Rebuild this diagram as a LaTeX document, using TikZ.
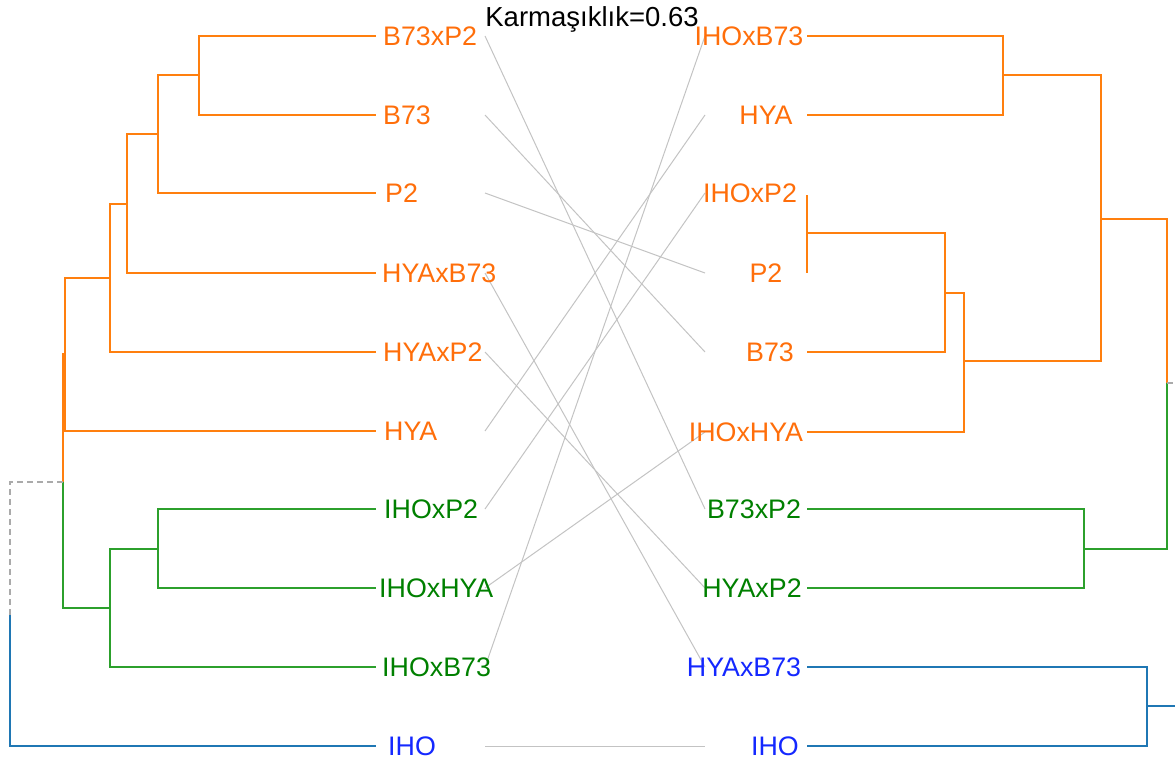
\documentclass[tikz,border=0pt]{standalone}
\usepackage{fontspec}
\setmainfont{Liberation Sans}
\definecolor{brOrange}{RGB}{255,127,14}
\definecolor{brGreen}{RGB}{44,160,44}
\definecolor{brBlue}{RGB}{31,119,180}
\definecolor{txOrange}{RGB}{255,110,10}
\definecolor{txGreen}{RGB}{0,128,0}
\definecolor{txBlue}{RGB}{20,40,255}
\definecolor{linkGray}{RGB}{195,195,195}
\definecolor{rootGray}{RGB}{170,170,170}
\begin{document}
\begin{tikzpicture}[x=1pt,y=-1pt,
  lbl/.style={inner sep=0pt, font=\fontsize{26.8}{31}\selectfont},
  lleft/.style={lbl, anchor=base west},
  lright/.style={lbl, anchor=base},
  br/.style={line width=2pt, line join=miter},
  brO/.style={br, draw=brOrange},
  brG/.style={br, draw=brGreen},
  brB/.style={br, draw=brBlue},
  rootdash/.style={line width=1.6pt, draw=rootGray, dash pattern=on 6pt off 4pt},
  link/.style={draw=linkGray, line width=1pt}]
\useasboundingbox (0,0) rectangle (1175,760);
\clip (0,0) rectangle (1175,760);

% connector end points (left column, right column)
\coordinate (cL1) at (485,36);
\coordinate (cL2) at (485,115);
\coordinate (cL3) at (485,193);
\coordinate (cL4) at (485,273);
\coordinate (cL5) at (485,352);
\coordinate (cL6) at (485,431);
\coordinate (cL7) at (485,509);
\coordinate (cL8) at (485,588);
\coordinate (cL9) at (485,667);
\coordinate (cL10) at (485,746);
\coordinate (cR1) at (705,36);
\coordinate (cR2) at (705,115);
\coordinate (cR3) at (705,193);
\coordinate (cR4) at (705,273);
\coordinate (cR5) at (705,352);
\coordinate (cR6) at (705,432);
\coordinate (cR7) at (705,509);
\coordinate (cR8) at (705,588);
\coordinate (cR9) at (705,667);
\coordinate (cR10) at (705,746);

% links between matching leaves
\draw[link] (cL1) -- (cR7);
\draw[link] (cL2) -- (cR5);
\draw[link] (cL3) -- (cR4);
\draw[link] (cL4) -- (cR9);
\draw[link] (cL5) -- (cR8);
\draw[link] (cL6) -- (cR2);
\draw[link] (cL7) -- (cR3);
\draw[link] (cL8) -- (cR6);
\draw[link] (cL9) -- (cR1);
\draw[link] (cL10) -- (cR10);

% left dendrogram
\draw[brO] (376,36) -- (199,36) -- (199,115) -- (376,115);
\draw[brO] (199,75) -- (158,75) -- (158,193) -- (376,193);
\draw[brO] (158,134) -- (127,134) -- (127,273) -- (376,273);
\draw[brO] (127,204) -- (110,204) -- (110,352) -- (376,352);
\draw[brO] (110,278) -- (65,278) -- (65,431) -- (376,431);
\draw[brO] (65,354) -- (63,354) -- (63,482);
\draw[brG] (63,482) -- (63,608) -- (110,608);
\draw[brG] (376,509) -- (158,509) -- (158,588) -- (376,588);
\draw[brG] (158,549) -- (110,549) -- (110,667) -- (376,667);
\draw[rootdash] (63,482) -- (10,482) -- (10,615);
\draw[brB] (10,615) -- (10,746) -- (376,746);

% right dendrogram
\draw[brO] (807,36) -- (1003,36) -- (1003,115) -- (807,115);
\draw[brO] (1003,75) -- (1101,75) -- (1101,361) -- (964,361);
\draw[brO] (807,195) -- (807,273);
\draw[brO] (807,233) -- (945,233) -- (945,352) -- (807,352);
\draw[brO] (945,293) -- (964,293) -- (964,432) -- (807,432);
\draw[brO] (1101,219) -- (1167,219) -- (1167,383);
\draw[brG] (1167,383) -- (1167,549) -- (1084,549);
\draw[brG] (807,509) -- (1084,509) -- (1084,588) -- (807,588);
\draw[rootdash] (1167,383) -- (1185,383);
\draw[brB] (807,667) -- (1147,667) -- (1147,746) -- (807,746);
\draw[brB] (1147,706) -- (1185,706);

% left leaf labels
\node[lleft, text=txOrange] (lB73xP2) at (383,45.5) {B73xP2};
\node[lleft, text=txOrange] (lB73) at (383,124.5) {B73};
\node[lleft, text=txOrange] (lP2) at (385,202.5) {P2};
\node[lleft, text=txOrange] (lHYAxB73) at (382,282.5) {HYAxB73};
\node[lleft, text=txOrange] (lHYAxP2) at (383,361.5) {HYAxP2};
\node[lleft, text=txOrange] (lHYA) at (384,440.5) {HYA};
\node[lleft, text=txGreen] (lIHOxP2) at (384,518.5) {IHOxP2};
\node[lleft, text=txGreen] (lIHOxHYA) at (379,597.5) {IHOxHYA};
\node[lleft, text=txGreen] (lIHOxB73) at (382,676.5) {IHOxB73};
\node[lleft, text=txBlue] (lIHO) at (388,755.5) {IHO};

% right leaf labels
\node[lright, text=txOrange] (rIHOxB73) at (749,45.5) {IHOxB73};
\node[lright, text=txOrange] (rHYA) at (766,124.5) {HYA};
\node[lright, text=txOrange] (rIHOxP2) at (750,202.5) {IHOxP2};
\node[lright, text=txOrange] (rP2) at (766,282.5) {P2};
\node[lright, text=txOrange] (rB73) at (770,361.5) {B73};
\node[lright, text=txOrange] (rIHOxHYA) at (746,441.5) {IHOxHYA};
\node[lright, text=txGreen] (rB73xP2) at (754,518.5) {B73xP2};
\node[lright, text=txGreen] (rHYAxP2) at (752,597.5) {HYAxP2};
\node[lright, text=txBlue] (rHYAxB73) at (744,676.5) {HYAxB73};
\node[lright, text=txBlue] (rIHO) at (775,755.5) {IHO};

% entanglement score
\node[lbl, anchor=base, text=black, font=\fontsize{27.5}{32}\selectfont] (score) at (592,27) {Karmaşıklık=0.63};
\end{tikzpicture}
\end{document}
